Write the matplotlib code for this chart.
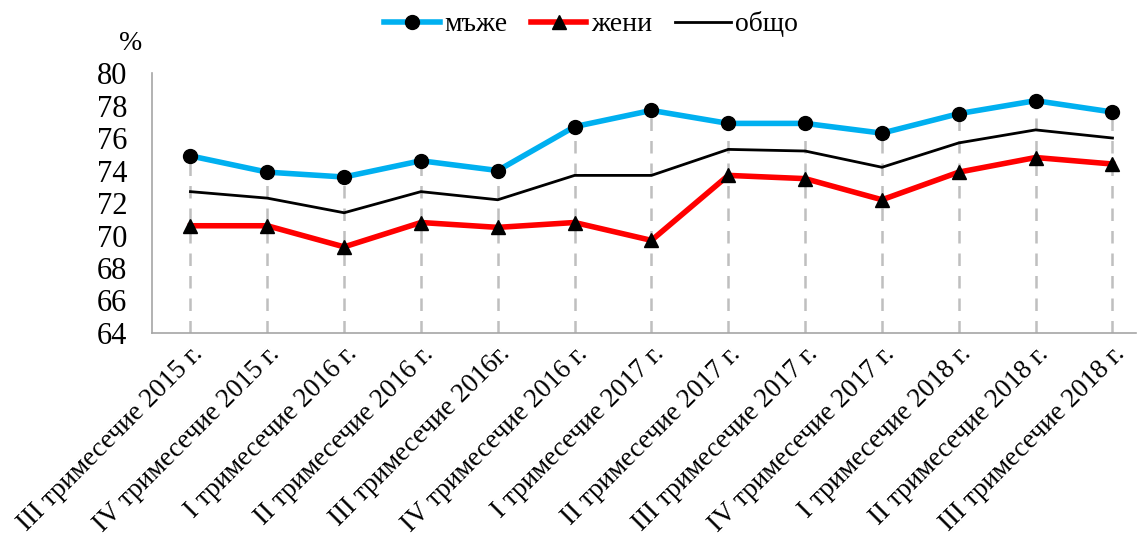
import numpy as np
import matplotlib.pyplot as plt

plt.rcParams['font.family'] = ['Liberation Serif', 'DejaVu Serif']

quarters = [
    "III тримесечие 2015 г.", "IV тримесечие 2015 г.", "I тримесечие 2016 г.",
    "II тримесечие 2016 г.", "III тримесечие 2016г.", "IV тримесечие 2016 г.",
    "I тримесечие 2017 г.", "II тримесечие 2017 г.", "III тримесечие 2017 г.",
    "IV тримесечие 2017 г.", "I тримесечие 2018 г.", "II тримесечие 2018 г.",
    "III тримесечие 2018 г.",
]
men = [74.9, 73.9, 73.6, 74.6, 74.0, 76.7, 77.7, 76.9, 76.9, 76.3, 77.5, 78.3, 77.6]
women = [70.6, 70.6, 69.3, 70.8, 70.5, 70.8, 69.7, 73.7, 73.5, 72.2, 73.9, 74.8, 74.4]
total = [72.7, 72.3, 71.4, 72.7, 72.2, 73.7, 73.7, 75.3, 75.2, 74.2, 75.7, 76.5, 76.0]

fig = plt.figure(figsize=(11.37, 5.41), dpi=100)
ax = fig.add_axes([0.1337, 0.3845, 0.865, 0.4805])

x = np.arange(len(quarters))
# drop lines from the highest series down to the axis
ax.vlines(x, 64, men, colors="#bfbfbf", linestyles=(0, (5, 4)), linewidth=1.8, zorder=1)

ax.plot(x, men, color="#00b0f0", lw=4, marker="o", ms=10,
        mfc="black", mec="black", label="мъже", zorder=3)
ax.plot(x, women, color="#ff0000", lw=4, marker="^", ms=10,
        mfc="black", mec="black", label="жени", zorder=3)
ax.plot(x, total, color="black", lw=2, label="общо", zorder=2)

ax.set_ylim(64, 80)
ax.set_yticks(range(64, 81, 2))
ax.set_xlim(-0.5, 12.3)
ax.set_xticks(x)
ax.set_xticklabels(quarters, rotation=45, ha="right", rotation_mode="anchor", fontsize=19.5)
ax.tick_params(axis="y", labelsize=22, length=0, pad=18)
ax.tick_params(axis="x", length=0, pad=6)

for s in ["top", "right"]:
    ax.spines[s].set_visible(False)
for s in ["left", "bottom"]:
    ax.spines[s].set_color("#a6a6a6")
    ax.spines[s].set_linewidth(1.2)

fig.text(0.115, 0.92, "%", fontsize=20, ha="center", va="center")
fig.legend(loc="center", bbox_to_anchor=(0.52, 0.955), ncol=3, frameon=False,
           fontsize=20, handlelength=2.0, columnspacing=0.85, handletextpad=0.15)

fig.savefig("out.png", dpi=100)
